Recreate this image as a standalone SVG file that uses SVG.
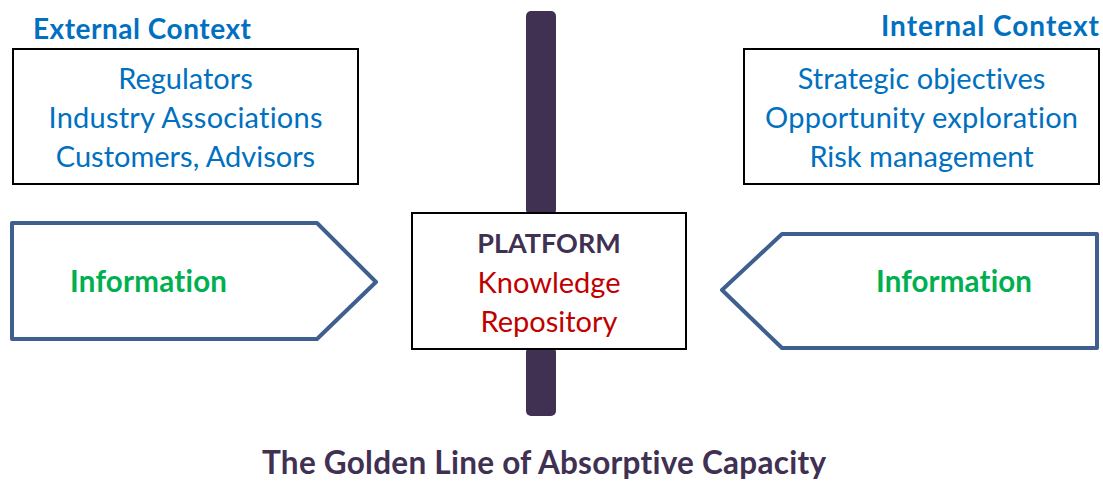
<svg xmlns="http://www.w3.org/2000/svg" width="1103" height="482" viewBox="0 0 1103 482">
<style>
text{font-family:Lato,"Open Sans",sans-serif;font-variant-ligatures:none}
.ctx{fill:#0070C0;font-weight:bold;font-size:28px}
.item{fill:#0070C0;font-size:29px;text-anchor:middle}
.box{fill:#fff;stroke:#000;stroke-width:2}
.arrow{fill:#fff;stroke:#3F5F8F;stroke-width:4;stroke-linejoin:round}
.info{fill:#00B050;font-weight:bold;font-size:29.5px}
.bar{fill:#403152}
.red{fill:#C00000;font-size:29px;text-anchor:middle}
</style>
<rect fill="#fff" width="1103" height="482"/>
<g id="golden-line">
<rect class="bar" x="526" y="11" width="30" height="204" rx="5"/>
<rect class="bar" x="526" y="347" width="30" height="69" rx="5"/>
</g>
<g id="external">
<text class="ctx" x="33" y="39" textLength="218">External Context</text>
<rect class="box" x="13" y="49" width="345" height="135"/>
<text class="item" x="185.5" y="89">Regulators</text>
<text class="item" x="185.5" y="128" textLength="274">Industry Associations</text>
<text class="item" x="185.5" y="167">Customers, Advisors</text>
</g>
<g id="internal">
<text class="ctx" x="881" y="36" textLength="218">Internal Context</text>
<rect class="box" x="744" y="49" width="355" height="135"/>
<text class="item" x="921.5" y="89">Strategic objectives</text>
<text class="item" x="921.5" y="128" textLength="313">Opportunity exploration</text>
<text class="item" x="921.5" y="167">Risk management</text>
</g>
<g id="info-left">
<path class="arrow" d="M12,223 H317 L376,282 L317,339 H12 Z"/>
<text class="info" x="70" y="292" textLength="157">Information</text>
</g>
<g id="info-right">
<path class="arrow" d="M1097,234 H782 L722,290 L782,348 H1097 Z"/>
<text class="info" x="876" y="292" textLength="156">Information</text>
</g>
<g id="platform">
<rect class="box" x="412" y="213" width="274" height="136"/>
<text x="549" y="253" text-anchor="middle" font-weight="bold" font-size="27" fill="#403152">PLATFORM</text>
<text class="red" x="549" y="293">Knowledge</text>
<text class="red" x="549" y="332">Repository</text>
</g>
<g id="connectors"></g>
<text x="262" y="474" font-weight="bold" font-size="31.5" fill="#403152" textLength="564">The Golden Line of Absorptive Capacity</text>
</svg>
